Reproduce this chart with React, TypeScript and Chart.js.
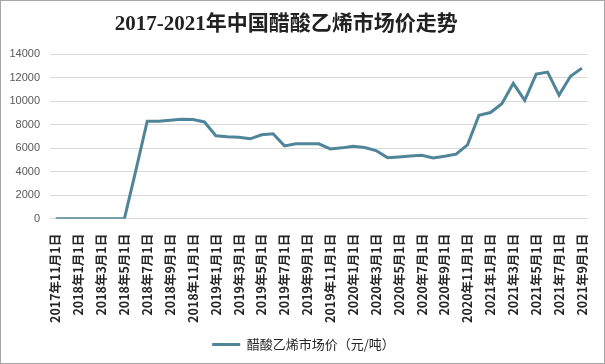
import React, { useEffect, useRef } from "react";
import { Chart, registerables } from "chart.js";

Chart.register(...registerables);

const TITLE = "2017-2021年中国醋酸乙烯市场价走势";
const SERIES_NAME = "醋酸乙烯市场价（元/吨）";

const MONTHS: string[] = [
  "2017年11月1日", "2017年12月1日",
  "2018年1月1日", "2018年2月1日", "2018年3月1日", "2018年4月1日", "2018年5月1日", "2018年6月1日",
  "2018年7月1日", "2018年8月1日", "2018年9月1日", "2018年10月1日", "2018年11月1日", "2018年12月1日",
  "2019年1月1日", "2019年2月1日", "2019年3月1日", "2019年4月1日", "2019年5月1日", "2019年6月1日",
  "2019年7月1日", "2019年8月1日", "2019年9月1日", "2019年10月1日", "2019年11月1日", "2019年12月1日",
  "2020年1月1日", "2020年2月1日", "2020年3月1日", "2020年4月1日", "2020年5月1日", "2020年6月1日",
  "2020年7月1日", "2020年8月1日", "2020年9月1日", "2020年10月1日", "2020年11月1日", "2020年12月1日",
  "2021年1月1日", "2021年2月1日", "2021年3月1日", "2021年4月1日", "2021年5月1日", "2021年6月1日",
  "2021年7月1日", "2021年8月1日", "2021年9月1日",
];

const PRICES: number[] = [
  0, 0,
  0, 0, 0, 0, 0, 4100,
  8300, 8300, 8370, 8450, 8430, 8230,
  7060, 6970, 6940, 6800, 7140, 7230,
  6200, 6370, 6370, 6370, 5940, 6030,
  6170, 6060, 5800, 5200, 5260, 5340,
  5400, 5170, 5310, 5490, 6290, 8800,
  9030, 9770, 11510, 10060, 12290, 12460,
  10510, 12110, 12800,
];

const Y_MIN = 0;
const Y_MAX = 14000;
const Y_STEP = 2000;

const titlePlugin = {
  id: "customTitle",
  afterDraw(chart: any) {
    const ctx = chart.ctx;
    ctx.save();
    ctx.font = "bold 21px 'Liberation Serif', 'Noto Sans CJK SC'";
    ctx.fillStyle = "#222222";
    ctx.textAlign = "center";
    ctx.textBaseline = "middle";
    ctx.fillText(TITLE, chart.width * 0.473, 24);
    ctx.restore();
  },
};

export default function App() {
  const ref = useRef<HTMLCanvasElement | null>(null);

  useEffect(() => {
    if (!ref.current) return;
    const chart = new Chart(ref.current, {
      type: "line",
      data: {
        labels: MONTHS,
        datasets: [
          {
            label: SERIES_NAME,
            data: PRICES,
            borderColor: "#4f8499",
            backgroundColor: "#4f8499",
            borderWidth: 3,
            pointRadius: 0,
            tension: 0,
          },
        ],
      },
      plugins: [titlePlugin],
      options: {
        animation: false,
        responsive: false,
        maintainAspectRatio: false,
        layout: { padding: { left: 8, right: 6, top: 53, bottom: 2 } },
        plugins: {
          title: { display: false },
          legend: {
            display: true,
            position: "bottom",
            labels: {
              usePointStyle: true,
              pointStyle: "line",
              pointStyleWidth: 28,
              boxWidth: 28,
              boxHeight: 3,
              color: "#262626",
              font: { family: "'Noto Sans CJK SC', 'Liberation Sans'", size: 13 },
              padding: 8,
            },
          },
          tooltip: { enabled: false },
        },
        scales: {
          x: {
            offset: true,
            grid: { display: false },
            border: { display: false },
            ticks: {
              autoSkip: false,
              maxRotation: 90,
              minRotation: 90,
              color: "#262626",
              padding: 7,
              font: { family: "'Noto Sans CJK SC', 'Liberation Sans'", size: 12.5, weight: "bold" },
              callback: (_v: any, i: number) => (i % 2 === 0 ? MONTHS[i] : ""),
            },
          },
          y: {
            min: Y_MIN,
            max: Y_MAX,
            afterFit: (axis: any) => {
              axis.width = 41;
            },
            grid: { color: "#d9d9d9", drawTicks: false },
            border: { display: false },
            ticks: {
              stepSize: Y_STEP,
              color: "#595959",
              padding: 10,
              font: { family: "'Liberation Sans'", size: 11 },
              callback: (v: any) => String(v),
            },
          },
        },
      },
    });
    return () => chart.destroy();
  }, []);

  return (
    <div
      style={{
        position: "absolute",
        left: 0,
        top: 0,
        width: 605,
        height: 364,
        border: "1px solid #a6a6a6",
        boxSizing: "border-box",
        background: "#fff",
      }}
    >
      <canvas ref={ref} width={603} height={362} style={{ display: "block" }} />
    </div>
  );
}
